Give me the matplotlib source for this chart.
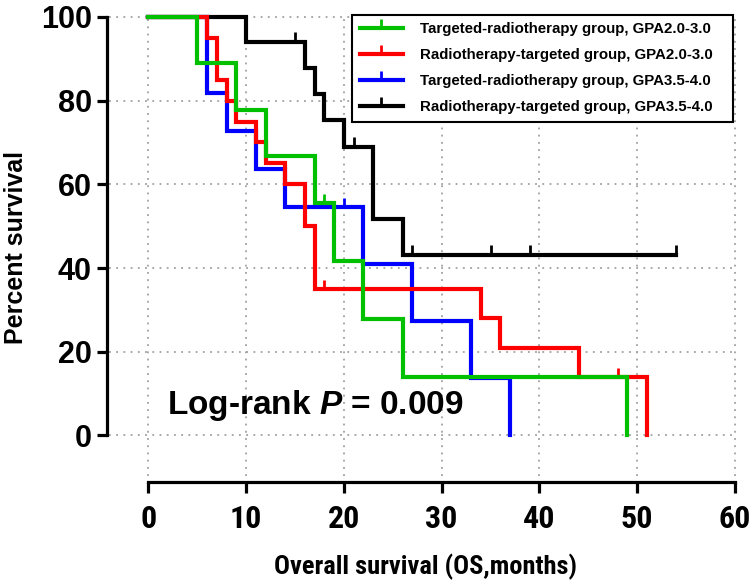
import matplotlib
matplotlib.use("Agg")
import matplotlib.pyplot as plt
from matplotlib import font_manager
from matplotlib.lines import Line2D
from matplotlib.path import Path

# Kaplan-Meier curves (time in months, survival in %)
green_t = [0, 5, 9, 12, 17, 19, 22, 26, 49]
green_s = [100, 88.9, 77.8, 66.7, 55.6, 41.7, 27.8, 13.9, 0]
green_ct = [18]
green_cs = [55.6]

red_t = [0, 6, 7, 8, 9, 11, 12, 14, 16, 17, 34, 36, 44, 51]
red_s = [100, 95, 85, 80, 75, 70, 65, 60, 50, 35, 28, 21, 14, 0]
red_ct = [18, 48]
red_cs = [35, 14]

blue_t = [0, 6, 8, 11, 14, 22, 27, 33, 37]
blue_s = [100, 81.8, 72.7, 63.6, 54.5, 40.9, 27.3, 13.6, 0]
blue_ct = [20]
blue_cs = [54.5]

black_t = [0, 10, 16, 17, 18, 20, 23, 26, 54]
black_s = [100, 94.1, 87.8, 81.5, 75.3, 69.0, 51.8, 43.2, 43.2]
black_ct = [15, 21, 27, 35, 39, 54]
black_cs = [94.1, 69.0, 43.2, 43.2, 43.2, 43.2]

labels = ["Targeted-radiotherapy group, GPA2.0-3.0",
          "Radiotherapy-targeted group, GPA2.0-3.0",
          "Targeted-radiotherapy group, GPA3.5-4.0",
          "Radiotherapy-targeted group, GPA3.5-4.0"]
colors = ["#00c000", "#ff0000", "#0000ff", "#000000"]

x_ticks = [0, 10, 20, 30, 40, 50, 60]
y_ticks = [0, 20, 40, 60, 80, 100]


def find_narrow():
    for name in ['Liberation Sans Narrow', 'Arial Narrow',
                 'DejaVu Sans Condensed', 'Roboto Condensed']:
        try:
            font_manager.findfont(name, fallback_to_default=False)
            return name
        except ValueError:
            pass
    return None


plt.rcParams['font.family'] = ['Liberation Sans', 'DejaVu Sans']
plt.rcParams['font.weight'] = 'bold'
plt.rcParams['mathtext.fontset'] = 'custom'
plt.rcParams['mathtext.bfit'] = 'Liberation Sans:italic:bold'

narrow_name = find_narrow()
if narrow_name:
    narrow = [narrow_name, 'Liberation Sans']
    xtick_size, xlab_size = 23, 19
else:
    narrow = ['Liberation Sans']
    xtick_size, xlab_size = 20, 17.5

fig = plt.figure(figsize=(7.5, 5.81), dpi=100)
ax = fig.add_axes([0.143, 0.17, 0.85, 0.808])
ax.set_xlim(-4.2, 61)
ax.set_ylim(-11.2, 101)

# dotted grid
grid_kw = dict(color='#a0a0a0', lw=1.3, linestyle=(0, (1, 3)), zorder=0)
ax.hlines(y_ticks, -4, 60, **grid_kw)
ax.vlines(x_ticks, -9.8, 100, **grid_kw)

series = [(green_t, green_s, green_ct, green_cs),
          (red_t, red_s, red_ct, red_cs),
          (blue_t, blue_s, blue_ct, blue_cs),
          (black_t, black_s, black_ct, black_cs)]

# draw in reverse order so the green curve ends up on top
for i in range(3, -1, -1):
    t, s, ct, cs = series[i]
    ax.step(t, s, where='post', color=colors[i], lw=3, zorder=3 + (3 - i),
            solid_joinstyle='miter')
    ax.vlines(ct, cs, [v + 2.2 for v in cs], color=colors[i], lw=2,
              zorder=3 + (3 - i))

# axes in GraphPad style
for side in ['top', 'right']:
    ax.spines[side].set_visible(False)
ax.spines['left'].set_bounds(0, 100)
ax.spines['bottom'].set_bounds(0, 60)
ax.spines['left'].set_linewidth(2.3)
ax.spines['bottom'].set_linewidth(2.3)
ax.set_xticks(x_ticks)
ax.set_yticks(y_ticks)
ax.tick_params(axis='y', length=7, width=2.3, labelsize=22, pad=4)
ax.tick_params(axis='x', length=8, width=2.3, labelsize=xtick_size, pad=8)
for lab in ax.get_xticklabels():
    lab.set_family(narrow)
    lab.set_fontweight('bold')
for lab in ax.get_yticklabels():
    lab.set_fontweight('bold')

ax.set_ylabel('Percent survival', fontsize=18, fontweight='bold', labelpad=9)
ax.set_xlabel('Overall survival (OS,months)', fontsize=xlab_size,
              fontweight='bold', family=narrow, labelpad=14)

ax.text(1.9, 7.2, r'Log-rank $\bfit{P}$ = 0.009', fontsize=24,
        fontweight='bold', ha='left', va='center')

# legend with censor-tick handles
tick_marker = Path([(0, 0), (0, 1)])
handles = [Line2D([0], [0], color=c, lw=3, marker=tick_marker, markersize=13,
                  markeredgewidth=2) for c in colors]
leg = fig.legend(handles, labels, loc='upper left',
                 bbox_to_anchor=(352 / 750, 0, 381 / 750, 1 - 15 / 581),
                 bbox_transform=fig.transFigure, mode='expand',
                 prop={'weight': 'bold', 'size': 10.8},
                 frameon=True, fancybox=False, framealpha=1,
                 edgecolor='black', handlelength=2.9, handletextpad=1.1,
                 labelspacing=0.8, borderpad=0.5, borderaxespad=0,
                 numpoints=1)
leg.get_frame().set_linewidth(1.5)

fig.savefig('out.png', dpi=100)
